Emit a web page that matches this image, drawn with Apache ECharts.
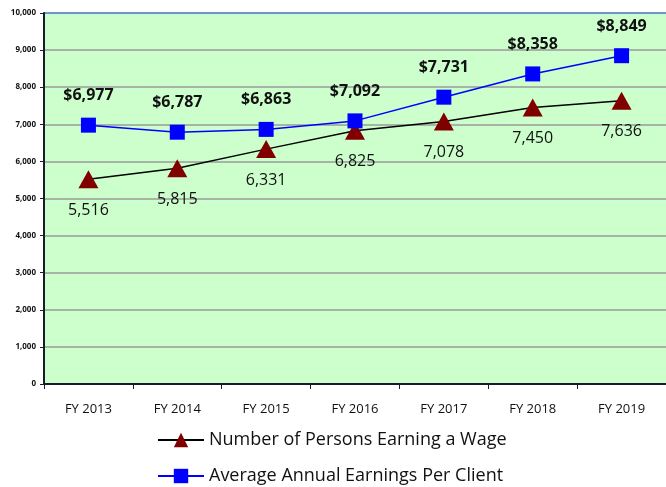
<!DOCTYPE html>
<html>
<head>
<meta charset="utf-8">
<script src="https://cdn.jsdelivr.net/npm/echarts@6/dist/echarts.min.js"></script>
<style>
  html, body { margin: 0; padding: 0; background: #fff; }
  #main { width: 666px; height: 487px; }
</style>
</head>
<body>
<div id="main"></div>
<script>
const years = ['FY 2013', 'FY 2014', 'FY 2015', 'FY 2016', 'FY 2017', 'FY 2018', 'FY 2019']
const personsEarning = [5516, 5815, 6331, 6825, 7078, 7450, 7636]
const avgEarnings = [6977, 6787, 6863, 7092, 7731, 8358, 8849]

const fmt = v => v.toLocaleString('en-US')

// grid lines are grey, the top one (10,000) is blue
const gridColors = ['#9a9a9a', '#9a9a9a', '#9a9a9a', '#9a9a9a', '#9a9a9a', '#9a9a9a',
  '#9a9a9a', '#9a9a9a', '#9a9a9a', '#9a9a9a', '#4472c4']

const myChart = echarts.init(document.getElementById('main'))
const option = {
  animation: false,
  textStyle: { fontFamily: 'Open Sans, sans-serif' },
  grid: {
    left: 44,
    right: -3,
    top: 13,
    bottom: 103,
    show: true,
    backgroundColor: '#ccffcc',
    borderWidth: 0
  },
  legend: {
    orient: 'vertical',
    left: 157,
    top: 431,
    padding: 0,
    itemGap: 18,
    itemWidth: 46,
    itemHeight: 18,
    textStyle: { fontSize: 18, color: '#111' },
    data: ['Number of Persons Earning a Wage', 'Average Annual Earnings Per Client']
  },
  xAxis: {
    type: 'category',
    data: years,
    boundaryGap: true,
    axisLine: { lineStyle: { color: '#1a1a2e', width: 2 } },
    axisTick: { show: true, length: 5, lineStyle: { color: '#1a1a2e' } },
    axisLabel: { fontSize: 13, color: '#111', margin: 19 }
  },
  yAxis: {
    type: 'value',
    min: 0,
    max: 10000,
    interval: 1000,
    axisLine: { show: true, lineStyle: { color: '#1a1a2e', width: 2 } },
    axisTick: { show: true, length: 4, lineStyle: { color: '#1a1a2e' } },
    axisLabel: {
      fontSize: 8,
      fontWeight: 'bold',
      color: '#111',
      margin: 8,
      formatter: v => fmt(v)
    },
    splitLine: { lineStyle: { color: gridColors, width: 1.5 } }
  },
  series: [
    {
      name: 'Number of Persons Earning a Wage',
      type: 'line',
      data: personsEarning,
      symbol: 'triangle',
      symbolSize: [20, 18],
      itemStyle: { color: '#800000' },
      lineStyle: { color: '#000', width: 1.5 },
      label: {
        show: true,
        position: 'bottom',
        distance: 14,
        fontSize: 16,
        color: '#111',
        formatter: p => fmt(p.value)
      }
    },
    {
      name: 'Average Annual Earnings Per Client',
      type: 'line',
      data: avgEarnings,
      symbol: 'rect',
      symbolSize: 15,
      itemStyle: { color: '#0000ff' },
      lineStyle: { color: '#0000ff', width: 1.5 },
      label: {
        show: true,
        position: 'top',
        distance: 14,
        fontSize: 16,
        fontWeight: 'bold',
        color: '#111',
        formatter: p => '$' + fmt(p.value)
      }
    }
  ]
}
myChart.setOption(option)
</script>
</body>
</html>
